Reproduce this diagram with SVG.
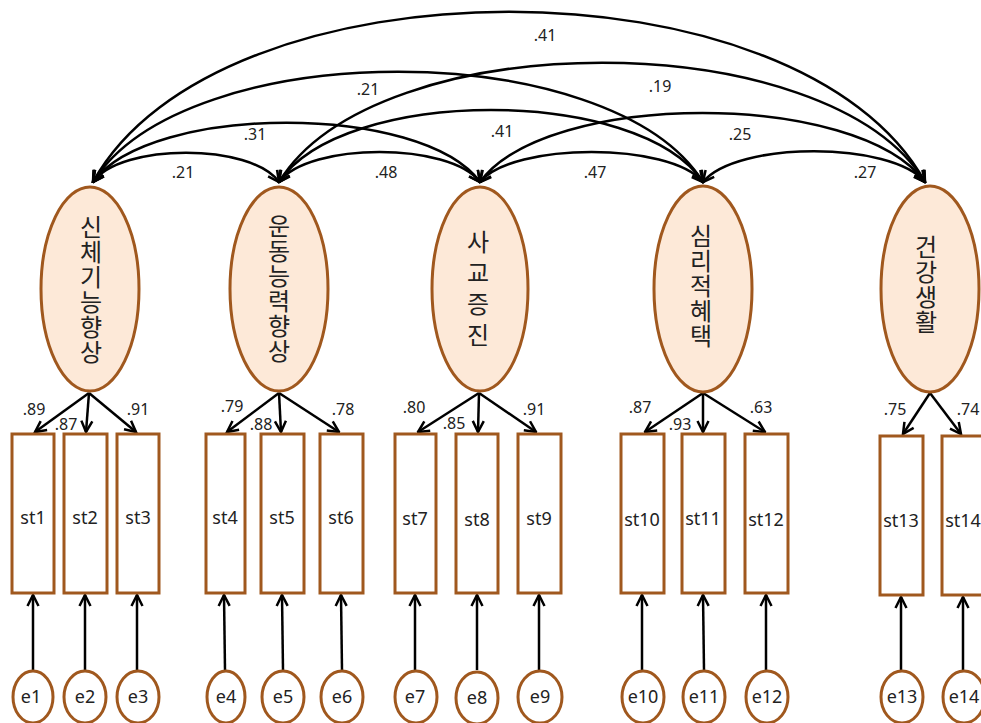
<svg xmlns="http://www.w3.org/2000/svg" width="981" height="723" viewBox="0 0 981 723">
<style>
.lat{fill:#fde9d8;stroke:#a0581e;stroke-width:3}
.obs{fill:#fff;stroke:#a0581e;stroke-width:3}
.err{fill:#fff;stroke:#a0581e;stroke-width:3}
.ko{font-family:"Noto Sans CJK KR","Noto Sans",sans-serif;font-size:24px;fill:#222;text-anchor:middle;writing-mode:vertical-rl;letter-spacing:1px}
.lb{font-family:"Noto Sans","DejaVu Sans",sans-serif;font-size:18px;fill:#222;text-anchor:middle}
.num{font-family:"Noto Sans","DejaVu Sans",sans-serif;font-size:16px;fill:#222;text-anchor:middle}
.cn path,.cn line{fill:none;stroke:#000;stroke-width:2.5}
.cor{marker-start:url(#arr);marker-end:url(#arr)}
.one{marker-end:url(#arr)}
</style>
<defs>
<marker id="arr" markerUnits="userSpaceOnUse" markerWidth="14" markerHeight="14" viewBox="0 0 14 14" refX="12.5" refY="7" orient="auto-start-reverse">
<path d="M1.5,1.5 L12.5,7 L1.5,12.5" fill="none" stroke="#000" stroke-width="2.5"/>
</marker>
</defs>

<g id="connectors" class="cn">
<path class="cor" d="M93,182 C121,143 251,143 279,182"/>
<path class="cor" d="M279,182 C309,142 450,142 480,182"/>
<path class="cor" d="M480,182 C513,142 670,142 703,182"/>
<path class="cor" d="M703,182 C736,141 892,141 925,182"/>
<path class="cor" d="M93,182 C151,103 422,103 480,182"/>
<path class="cor" d="M279,182 C343,86 639,86 703,182"/>
<path class="cor" d="M480,182 C547,90 858,90 925,182"/>
<path class="cor" d="M93,182 C185,35 611,35 703,182"/>
<path class="cor" d="M279,182 C376,23 828,23 925,182"/>
<path class="cor" d="M93,182 C218,-45 800,-45 925,182"/>

<line class="one" x1="89" y1="393" x2="35" y2="432"/>
<line class="one" x1="89" y1="393" x2="86" y2="432"/>
<line class="one" x1="89" y1="393" x2="136" y2="432"/>
<line class="one" x1="279" y1="393" x2="227" y2="432"/>
<line class="one" x1="279" y1="393" x2="281" y2="432"/>
<line class="one" x1="279" y1="393" x2="339" y2="432"/>
<line class="one" x1="479" y1="393" x2="418" y2="432"/>
<line class="one" x1="479" y1="393" x2="478" y2="432"/>
<line class="one" x1="479" y1="393" x2="536" y2="432"/>
<line class="one" x1="703" y1="393" x2="645" y2="432"/>
<line class="one" x1="703" y1="393" x2="703" y2="432"/>
<line class="one" x1="703" y1="393" x2="765" y2="432"/>
<line class="one" x1="930" y1="393" x2="903" y2="434"/>
<line class="one" x1="930" y1="393" x2="961" y2="434"/>

<line class="one" x1="33" y1="670" x2="33" y2="595"/>
<line class="one" x1="85" y1="670" x2="85" y2="595"/>
<line class="one" x1="137" y1="670" x2="137" y2="595"/>
<line class="one" x1="225" y1="670" x2="224" y2="595"/>
<line class="one" x1="283" y1="670" x2="282" y2="595"/>
<line class="one" x1="342" y1="670" x2="341" y2="595"/>
<line class="one" x1="415" y1="670" x2="415" y2="595"/>
<line class="one" x1="477" y1="670" x2="477" y2="595"/>
<line class="one" x1="539" y1="670" x2="539" y2="595"/>
<line class="one" x1="642" y1="670" x2="642" y2="595"/>
<line class="one" x1="704" y1="670" x2="703" y2="595"/>
<line class="one" x1="766" y1="670" x2="766" y2="595"/>
<line class="one" x1="901" y1="670" x2="901" y2="597"/>
<line class="one" x1="963" y1="670" x2="963" y2="597"/>
</g>

<g id="corr-labels">
<text class="num" x="545" y="41">.41</text>
<text class="num" x="368" y="95">.21</text>
<text class="num" x="660" y="92">.19</text>
<text class="num" x="255" y="140">.31</text>
<text class="num" x="502" y="137">.41</text>
<text class="num" x="740" y="140">.25</text>
<text class="num" x="183" y="178">.21</text>
<text class="num" x="386" y="178">.48</text>
<text class="num" x="595" y="178">.47</text>
<text class="num" x="865" y="178">.27</text>
</g>

<g id="load-labels">
<text class="num" x="34" y="415">.89</text>
<text class="num" x="66" y="430">.87</text>
<text class="num" x="138" y="415">.91</text>
<text class="num" x="232" y="412">.79</text>
<text class="num" x="261" y="430">.88</text>
<text class="num" x="343" y="415">.78</text>
<text class="num" x="414" y="413">.80</text>
<text class="num" x="454" y="429">.85</text>
<text class="num" x="534" y="415">.91</text>
<text class="num" x="640" y="413">.87</text>
<text class="num" x="680" y="430">.93</text>
<text class="num" x="761" y="413">.63</text>
<text class="num" x="895" y="415">.75</text>
<text class="num" x="968" y="415">.74</text>
</g>

<g id="F1"><ellipse class="lat" cx="90" cy="289" rx="49" ry="102"/>
<text class="ko" x="91" y="290">신체기능향상</text></g>
<g id="F2"><ellipse class="lat" cx="279" cy="289" rx="49" ry="102"/>
<text class="ko" x="279" y="289">운동능력향상</text></g>
<g id="F3"><ellipse class="lat" cx="480" cy="289" rx="48" ry="102"/>
<text class="ko" x="478" y="292" style="letter-spacing:7px">사교증진</text></g>
<g id="F4"><ellipse class="lat" cx="703" cy="289" rx="49" ry="103"/>
<text class="ko" x="701" y="286">심리적혜택</text></g>
<g id="F5"><ellipse class="lat" cx="930" cy="289" rx="49" ry="103"/>
<text class="ko" x="926" y="285">건강생활</text></g>

<g id="st1"><rect class="obs" x="12" y="434" width="42" height="159"/><text class="lb" x="33" y="524">st1</text></g>
<g id="st2"><rect class="obs" x="64" y="434" width="43" height="159"/><text class="lb" x="85" y="524">st2</text></g>
<g id="st3"><rect class="obs" x="117" y="434" width="42" height="159"/><text class="lb" x="138" y="524">st3</text></g>
<g id="st4"><rect class="obs" x="206" y="434" width="39" height="159"/><text class="lb" x="225" y="524">st4</text></g>
<g id="st5"><rect class="obs" x="261" y="434" width="43" height="159"/><text class="lb" x="282" y="524">st5</text></g>
<g id="st6"><rect class="obs" x="320" y="434" width="43" height="159"/><text class="lb" x="341" y="524">st6</text></g>
<g id="st7"><rect class="obs" x="395" y="434" width="41" height="159"/><text class="lb" x="415" y="525">st7</text></g>
<g id="st8"><rect class="obs" x="456" y="434" width="42" height="159"/><text class="lb" x="477" y="526">st8</text></g>
<g id="st9"><rect class="obs" x="518" y="434" width="43" height="159"/><text class="lb" x="539" y="525">st9</text></g>
<g id="st10"><rect class="obs" x="621" y="434" width="43" height="159"/><text class="lb" x="642" y="526">st10</text></g>
<g id="st11"><rect class="obs" x="682" y="434" width="43" height="159"/><text class="lb" x="703" y="525">st11</text></g>
<g id="st12"><rect class="obs" x="745" y="434" width="43" height="159"/><text class="lb" x="766" y="526">st12</text></g>
<g id="st13"><rect class="obs" x="880" y="436" width="43" height="159"/><text class="lb" x="901" y="527">st13</text></g>
<g id="st14"><rect class="obs" x="942" y="436" width="43" height="159"/><text class="lb" x="963" y="527">st14</text></g>

<g id="e1"><ellipse class="err" cx="33" cy="697" rx="20" ry="26"/><text class="lb" x="31" y="703">e1</text></g>
<g id="e2"><ellipse class="err" cx="85" cy="697" rx="21" ry="26"/><text class="lb" x="85" y="703">e2</text></g>
<g id="e3"><ellipse class="err" cx="138" cy="697" rx="21" ry="26"/><text class="lb" x="138" y="703">e3</text></g>
<g id="e4"><ellipse class="err" cx="226" cy="697" rx="19" ry="26"/><text class="lb" x="226" y="703">e4</text></g>
<g id="e5"><ellipse class="err" cx="283" cy="697" rx="21" ry="26"/><text class="lb" x="283" y="703">e5</text></g>
<g id="e6"><ellipse class="err" cx="342" cy="697" rx="21" ry="26"/><text class="lb" x="342" y="703">e6</text></g>
<g id="e7"><ellipse class="err" cx="416" cy="697" rx="21" ry="26"/><text class="lb" x="415" y="703">e7</text></g>
<g id="e8"><ellipse class="err" cx="477" cy="698" rx="21" ry="26"/><text class="lb" x="477" y="704">e8</text></g>
<g id="e9"><ellipse class="err" cx="540" cy="697" rx="22" ry="26"/><text class="lb" x="540" y="703">e9</text></g>
<g id="e10"><ellipse class="err" cx="643" cy="697" rx="21" ry="26"/><text class="lb" x="643" y="703">e10</text></g>
<g id="e11"><ellipse class="err" cx="704" cy="697" rx="21" ry="26"/><text class="lb" x="704" y="703">e11</text></g>
<g id="e12"><ellipse class="err" cx="767" cy="697" rx="21" ry="26"/><text class="lb" x="767" y="703">e12</text></g>
<g id="e13"><ellipse class="err" cx="902" cy="697" rx="21" ry="26"/><text class="lb" x="902" y="703">e13</text></g>
<g id="e14"><ellipse class="err" cx="964" cy="697" rx="21" ry="26"/><text class="lb" x="964" y="703">e14</text></g>
</svg>
